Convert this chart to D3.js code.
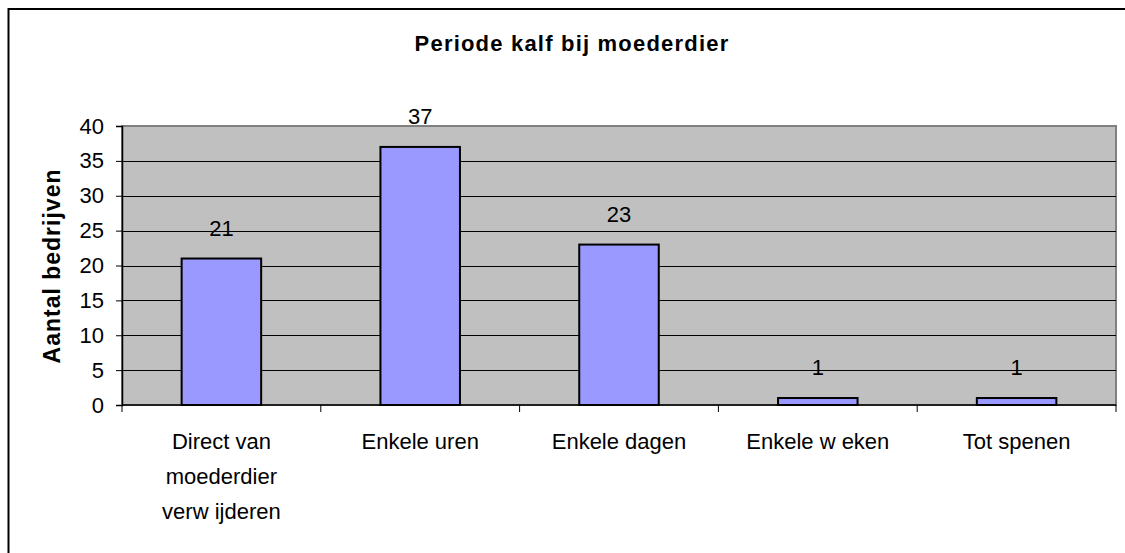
<!DOCTYPE html>
<html>
<head>
<meta charset="utf-8">
<script src="https://cdn.jsdelivr.net/npm/d3@7"></script>
<style>
 body{margin:0;background:#fff;}
 svg text{font-family:"Liberation Sans",Arial,sans-serif;fill:#000;}
</style>
</head>
<body>
<div id="chart"></div>
<script>
var categories=[["Direct van","moederdier","verw ijderen"],["Enkele uren"],["Enkele dagen"],["Enkele w eken"],["Tot spenen"]];
var values=[21,37,23,1,1];
var yTicks=[0,5,10,15,20,25,30,35,40];
var title="Periode kalf bij moederdier";
var yTitle="Aantal bedrijven";

(function()
{
 var W=1125,H=553,left=122,right=1116,top=126,bottom=405,svg,x,y,names,g;
 svg=d3.select("#chart").append("svg").attr("width",W).attr("height",H);
 svg.append("rect").attr("x",8.5).attr("y",9).attr("width",W+20).attr("height",H+20)
  .attr("fill","#fff").attr("stroke","#000").attr("stroke-width",2);

 names=categories.map(function(c){return c.join(" ");});
 x=d3.scaleBand().domain(names).range([left,right]).paddingInner(0.6).paddingOuter(0.3);
 y=d3.scaleLinear().domain([0,40]).range([bottom,top]);

 // plot area
 svg.append("rect").attr("x",left).attr("y",top).attr("width",right-left).attr("height",bottom-top)
  .attr("fill","#c0c0c0").attr("stroke","#808080").attr("stroke-width",2);

 // gridlines
 svg.append("g").selectAll("line").data(yTicks.filter(function(t){return t>0&&t<40;})).join("line")
  .attr("x1",left).attr("x2",right).attr("y1",function(d){return Math.round(y(d))+0.5;}).attr("y2",function(d){return Math.round(y(d))+0.5;})
  .attr("stroke","#000").attr("stroke-width",1);

 // bars
 svg.append("g").selectAll("rect").data(values).join("rect")
  .attr("x",function(d,i){return x(names[i]);})
  .attr("y",function(d){return y(d);})
  .attr("width",x.bandwidth())
  .attr("height",function(d){return y(0)-y(d);})
  .attr("fill","#9999ff").attr("stroke","#000").attr("stroke-width",2);

 // value labels
 svg.append("g").selectAll("text").data(values).join("text")
  .attr("x",function(d,i){return x(names[i])+x.bandwidth()/2;})
  .attr("y",function(d){return y(d)-23;})
  .attr("text-anchor","middle").attr("font-size",22)
  .text(function(d){return d;});

 // y axis
 g=svg.append("g").attr("transform","translate("+left+",0)")
  .call(d3.axisLeft(y).tickValues(yTicks).tickSize(6).tickPadding(12));
 g.select(".domain").attr("stroke","#000").attr("stroke-width",1.5);
 g.selectAll(".tick line").attr("stroke","#000");
 g.selectAll(".tick text").attr("font-size",22).attr("font-family","Liberation Sans, Arial, sans-serif").attr("fill","#000");

 // x axis line and ticks at category boundaries
 svg.append("line").attr("x1",left).attr("x2",right).attr("y1",bottom).attr("y2",bottom)
  .attr("stroke","#000").attr("stroke-width",1.5);
 svg.append("g").selectAll("line").data(d3.range(names.length+1)).join("line")
  .attr("x1",function(i){return left+i*x.step();}).attr("x2",function(i){return left+i*x.step();})
  .attr("y1",bottom).attr("y2",bottom+7).attr("stroke","#000");

 // category labels
 svg.append("g").selectAll("text").data(categories).join("text")
  .attr("text-anchor","middle").attr("font-size",22)
  .each(function(lines,i)
  {
   var t=d3.select(this),cx=x(names[i])+x.bandwidth()/2;
   lines.forEach(function(l,k)
   {
    t.append("tspan").attr("x",cx).attr("y",449+k*35).text(l);
   });
  });

 // titles
 svg.append("text").attr("x",572).attr("y",51).attr("text-anchor","middle")
  .attr("font-size",22).attr("font-weight","bold").attr("letter-spacing",1.2).text(title);
 svg.append("text").attr("transform","translate(60,266) rotate(-90)").attr("text-anchor","middle")
  .attr("font-size",23).attr("font-weight","bold").attr("letter-spacing",1).text(yTitle);
}());
</script>
</body>
</html>
